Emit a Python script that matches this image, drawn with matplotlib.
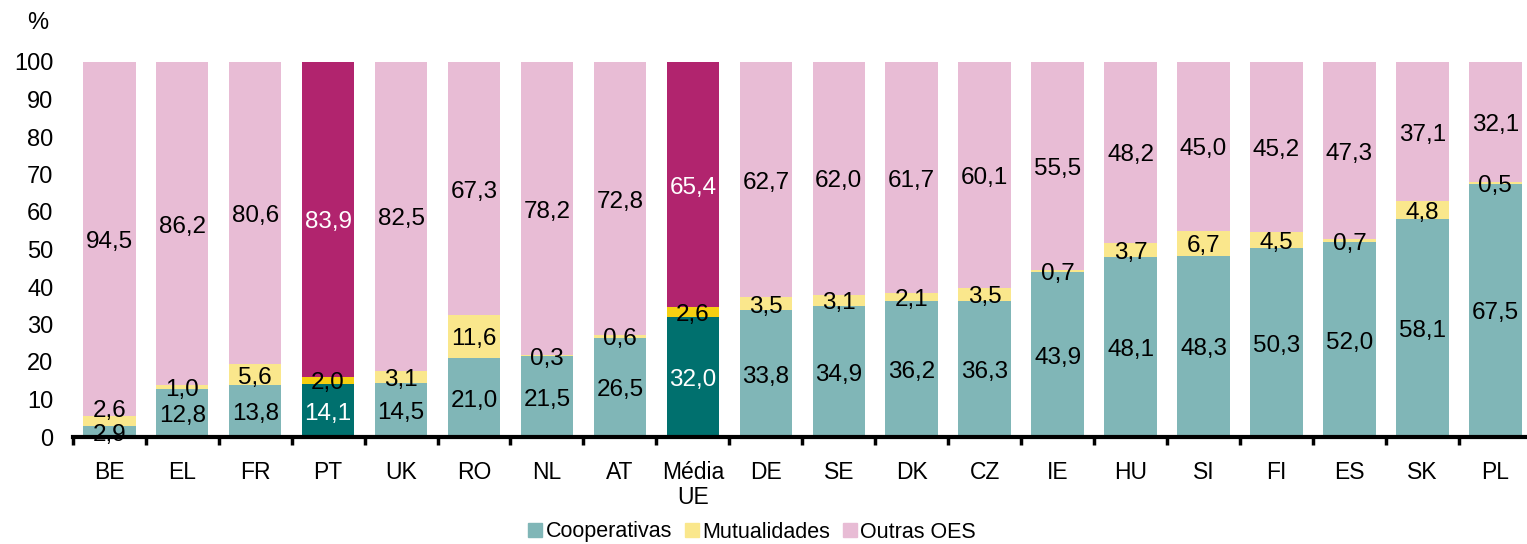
import numpy as np
import matplotlib.pyplot as plt

plt.rcParams['font.family'] = ['Liberation Sans', 'DejaVu Sans']

# share of each type of social economy organisation, by country (%)
countries = ['BE', 'EL', 'FR', 'PT', 'UK', 'RO', 'NL', 'AT', 'Média\nUE', 'DE',
             'SE', 'DK', 'CZ', 'IE', 'HU', 'SI', 'FI', 'ES', 'SK', 'PL']
coop = [2.9, 12.8, 13.8, 14.1, 14.5, 21.0, 21.5, 26.5, 32.0, 33.8,
        34.9, 36.2, 36.3, 43.9, 48.1, 48.3, 50.3, 52.0, 58.1, 67.5]
mutual = [2.6, 1.0, 5.6, 2.0, 3.1, 11.6, 0.3, 0.6, 2.6, 3.5,
          3.1, 2.1, 3.5, 0.7, 3.7, 6.7, 4.5, 0.7, 4.8, 0.5]
outras = [94.5, 86.2, 80.6, 83.9, 82.5, 67.3, 78.2, 72.8, 65.4, 62.7,
          62.0, 61.7, 60.1, 55.5, 48.2, 45.0, 45.2, 47.3, 37.1, 32.1]
highlight = ['PT', 'Média\nUE']
series_names = ['Cooperativas', 'Mutualidades', 'Outras OES']

# colours: normal / highlighted bars
base_col = ['#80b6b7', '#fae78c', '#e8bcd5']
hi_col = ['#00706e', '#f6d011', '#b1246e']

# label nudges (in % units) where labels would overlap
mut_nudge = {'BE': 3.5}

fig = plt.figure(figsize=(15.27, 5.44), dpi=100)
ax = fig.add_axes([72.8 / 1527, 1 - 437 / 544, 1459 / 1527, 375 / 544])

x = np.arange(len(countries))
coop = np.array(coop)
mutual = np.array(mutual)
outras = np.array(outras)
is_hi = np.array([c in highlight for c in countries])

bottoms = [np.zeros(len(x)), coop, coop + mutual]
for k, vals in enumerate([coop, mutual, outras]):
    cols = [hi_col[k] if h else base_col[k] for h in is_hi]
    ax.bar(x, vals, width=0.72, bottom=bottoms[k], color=cols,
           label=series_names[k], zorder=2)

    for i, v in enumerate(vals):
        y = bottoms[k][i] + v / 2
        if k == 1:
            y += mut_nudge.get(countries[i], 0)
        tc = 'white' if (is_hi[i] and k != 1) else 'black'
        ax.text(x[i], y - 0.8, f'{v:.1f}'.replace('.', ','), ha='center',
                va='center', fontsize=17.5, color=tc, zorder=3)

ax.set_xlim(-0.5, 19.5)
ax.set_ylim(0, 100)
ax.set_yticks(range(0, 101, 10))
ax.tick_params(axis='y', length=0, labelsize=17, pad=14)
ax.set_xticks(x)
ax.set_xticklabels(countries, fontsize=16.5, linespacing=1.15)
ax.tick_params(axis='x', which='major', length=0, pad=17)
ax.set_xticks(np.arange(-0.5, 20, 1), minor=True)
ax.tick_params(axis='x', which='minor', length=6, width=2.5, direction='out')

for side in ['left', 'right', 'top']:
    ax.spines[side].set_visible(False)
ax.spines['bottom'].set_linewidth(3)
ax.spines['bottom'].set_zorder(4)

fig.text(38 / 1527, 1 - 23 / 544, '%', fontsize=17, ha='center', va='center')

handles, labels = ax.get_legend_handles_labels()
leg = fig.legend(handles, labels, loc='center', ncol=3,
                 bbox_to_anchor=(752 / 1527, 1 - 532 / 544),
                 frameon=False, fontsize=15.5, handlelength=0.65,
                 handleheight=0.65, handletextpad=0.15, columnspacing=0.6)
for h, c in zip(leg.legend_handles, base_col):
    h.set_color(c)

fig.savefig('out.png', dpi=100)
